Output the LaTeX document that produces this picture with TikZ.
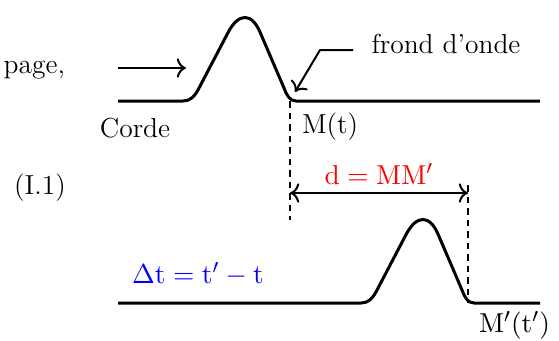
\documentclass[tikz,border=0pt]{standalone}
\usepackage{amsmath,amssymb}
\usepackage{tikz}
\usetikzlibrary{arrows.meta,positioning,calc}
\usepackage{xcolor}
\definecolor{OndeRed}{HTML}{FF0000}
\definecolor{OndeBlue}{HTML}{0000FF}

\begin{document}
\begin{tikzpicture}[x=0.4pt,y=-0.4pt, every node/.style={inner sep=1pt,font=\fontsize{11pt}{13pt}\selectfont},
    corde/.style={line width=1.2pt,line join=round},
    repere/.style={line width=1.1pt,dash pattern=on 2.6pt off 2pt}]
    \useasboundingbox (0,0) rectangle (559,340);
    % points du front d'onde
    \coordinate (m) at (290,101);
    \coordinate (mp) at (468,303);
    \coordinate (mbas) at (290,220);
    \coordinate (mphaut) at (468,185);
    % corde aux instants t et t'
    \draw[corde] (118,101) -- (183,101) .. controls (190,101) and (194,97) .. (198,90) -- (227.8,33)
      .. controls (238.5,12.3) and (251.9,12.3) .. (260.4,33) -- (284,88)
      .. controls (287,96) and (290,101) .. (296,101) -- (540,101);
    \draw[corde] (118,303) -- (361,303) .. controls (368,303) and (372,299) .. (376,292) -- (405.8,235)
      .. controls (416.5,214.3) and (429.9,214.3) .. (438.4,235) -- (462,290)
      .. controls (465,298) and (468,303) .. (474,303) -- (540,303);
    \draw[repere] (m) -- (mbas);
    \draw[repere] (mphaut) -- (mp);
    % textes
    \node[anchor=east] (page) at (68,70) {page,};
    \node (eq) at (40,188) {(I.1)};
    \node (corde) at (135,128) {Corde};
    \node[anchor=west] (mt) at (299,127) {M(t)};
    \node[anchor=west] (mpt) at (476,325) {$\mathrm{M'(t')}$};
    \node (front) at (446,44) {frond d'onde};
    \node[anchor=west,text=OndeBlue] (dt) at (129,274) {$\Delta\mathrm{t}=\mathrm{t}'-\mathrm{t}$};
    % fleches
    \coordinate (ga) at (118,68);
    \coordinate (gb) at (186,68);
    \draw[-{To[length=1.3mm]},line width=0.8pt] (ga) -- (gb);
    \coordinate (fa) at (353,50);
    \coordinate (fb) at (320,50);
    \coordinate (fc) at (295,92);
    \draw[-{To[length=1.3mm]},line width=0.8pt] (fa) -- (fb) -- (fc);
    \coordinate (da) at (290,193);
    \coordinate (db) at (468,193);
    \draw[{To[length=1.3mm]}-{To[length=1.3mm]},line width=0.8pt] (da) -- (db) node[midway,above=2pt,text=OndeRed] (d) {$\mathrm{d}=\mathrm{MM'}$};
  \end{tikzpicture}
\end{document}
